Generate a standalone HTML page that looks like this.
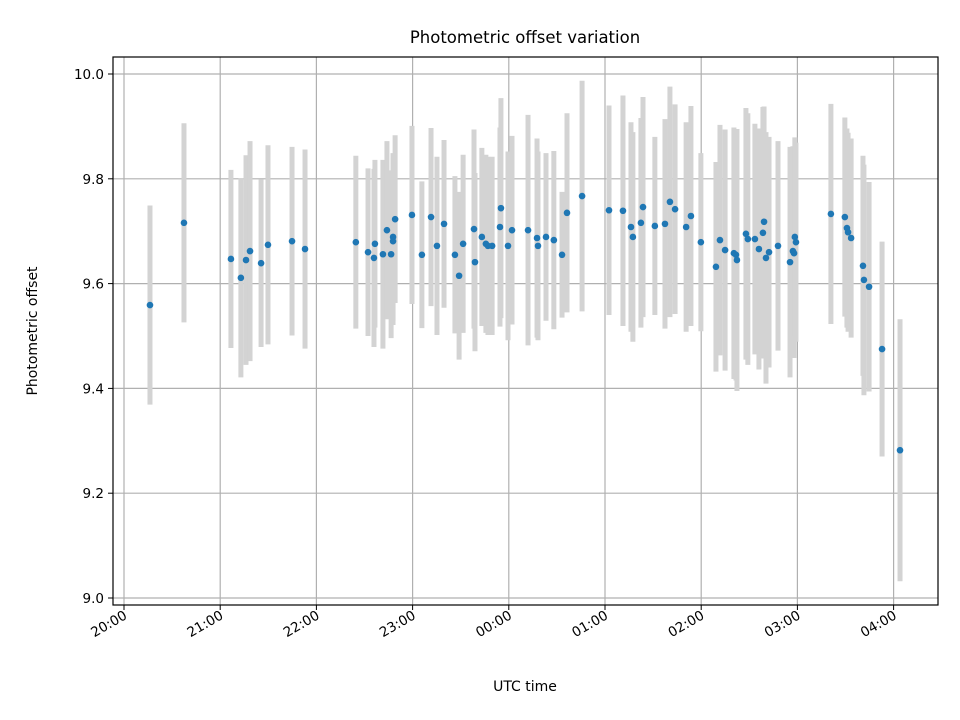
<!DOCTYPE html>
<html><head><meta charset="utf-8"><style>
body{margin:0;background:#fff;}
svg{display:block;font-family:"DejaVu Sans","Liberation Sans",sans-serif;}
</style></head><body>
<svg id="chart" width="960" height="720" viewBox="0 0 960 720">
<rect width="960" height="720" fill="#fff"/>
<text x="525" y="43" font-size="16.5" text-anchor="middle">Photometric offset variation</text>
<text x="37" y="331" font-size="14" text-anchor="middle" transform="rotate(-90 37 331)">Photometric offset</text>
<text x="525" y="691" font-size="14" text-anchor="middle">UTC time</text>
<g id="grid"></g><g id="bars"></g><g id="pts"></g><g id="ticks"></g>
<rect x="113" y="57" width="825" height="548" fill="none" stroke="#000" stroke-width="1.2"/>
</svg>
<script>
// minutes after 20:00 UTC
const times=[16.2,37.4,66.7,72.9,76.1,78.6,85.5,89.8,104.8,112.9,144.6,152.2,155.9,156.5,161.5,164.0,166.6,167.8,167.8,169.1,179.6,185.8,191.5,195.2,199.6,206.4,209.0,211.5,218.3,218.9,223.2,225.7,227.0,229.6,234.5,235.1,239.5,242.0,252.0,257.6,258.2,263.2,268.1,273.2,276.3,285.7,302.5,311.2,316.2,317.4,323.7,322.4,331.1,337.4,340.5,343.7,350.6,353.6,359.8,369.2,371.7,374.9,380.4,381.7,382.3,387.9,389.1,393.5,396.0,399.2,398.5,400.4,402.3,407.9,415.4,417.2,417.9,418.4,419.1,440.9,449.6,450.9,451.6,453.5,460.9,461.5,464.7,472.8,484.0];
const offsets=[9.559,9.716,9.647,9.611,9.645,9.662,9.639,9.674,9.681,9.666,9.679,9.660,9.649,9.676,9.656,9.702,9.656,9.689,9.681,9.723,9.731,9.655,9.727,9.672,9.714,9.655,9.615,9.676,9.704,9.641,9.689,9.676,9.672,9.672,9.708,9.744,9.672,9.702,9.702,9.687,9.672,9.689,9.683,9.655,9.735,9.767,9.740,9.739,9.708,9.689,9.746,9.716,9.710,9.714,9.756,9.742,9.708,9.729,9.679,9.632,9.683,9.664,9.658,9.655,9.645,9.695,9.685,9.685,9.666,9.718,9.697,9.649,9.660,9.672,9.641,9.662,9.658,9.689,9.679,9.733,9.727,9.706,9.698,9.687,9.634,9.607,9.594,9.475,9.282];
const errors=[0.19,0.19,0.17,0.19,0.20,0.21,0.16,0.19,0.18,0.19,0.165,0.16,0.17,0.16,0.18,0.17,0.16,0.16,0.16,0.16,0.17,0.14,0.17,0.17,0.16,0.15,0.16,0.17,0.19,0.17,0.17,0.17,0.17,0.17,0.19,0.21,0.18,0.18,0.22,0.19,0.18,0.16,0.17,0.12,0.19,0.22,0.20,0.22,0.20,0.20,0.21,0.20,0.17,0.20,0.22,0.20,0.20,0.21,0.17,0.20,0.22,0.23,0.24,0.24,0.25,0.24,0.24,0.22,0.23,0.22,0.24,0.24,0.22,0.20,0.22,0.20,0.20,0.19,0.19,0.21,0.19,0.19,0.19,0.19,0.21,0.22,0.20,0.205,0.25];
const xTickMins=[0,60,120,180,240,300,360,420,480];
const xTickLabels=["20:00","21:00","22:00","23:00","00:00","01:00","02:00","03:00","04:00"];
const yTicks=[9.0,9.2,9.4,9.6,9.8,10.0];
const yTickLabels=["9.0","9.2","9.4","9.6","9.8","10.0"];
const NS="http://www.w3.org/2000/svg";
function X(m){return 124+m*96.2/60;}
function Y(v){return 74+(10-v)*524;}
function mk(tag,attrs,parent){const e=document.createElementNS(NS,tag);for(const k in attrs)e.setAttribute(k,attrs[k]);document.getElementById(parent).appendChild(e);return e;}
xTickMins.forEach((m,i)=>{
 const x=X(m);
 const g=mk('line',{x1:x,x2:x,y1:57,y2:605,stroke:'#b0b0b0','stroke-width':1.2},'grid');
 
 
 const t=mk('line',{x1:x,x2:x,y1:605,y2:610,stroke:'#000','stroke-width':1},'ticks');
 
 
 const l=mk('text',{x:x+4,y:618,'font-size':13.5,'text-anchor':'end',transform:`rotate(-30 ${x+4} 618)`},'ticks');
 l.textContent=xTickLabels[i];
 
 
});
yTicks.forEach((v,i)=>{
 const y=Y(v);
 const g=mk('line',{x1:113,x2:938,y1:y,y2:y,stroke:'#b0b0b0','stroke-width':1.2},'grid');
 
 
 const t=mk('line',{x1:108,x2:113,y1:y,y2:y,stroke:'#000','stroke-width':1},'ticks');
 
 
 const l=mk('text',{x:104,y:y+5,'font-size':13.5,'text-anchor':'end'},'ticks');
 l.textContent=yTickLabels[i];
 
 
});
times.forEach((m,i)=>{
 const x=X(m),v=offsets[i],e=errors[i];
 const b=mk('line',{x1:x,x2:x,y1:Y(v+e),y2:Y(v-e),stroke:'#d3d3d3','stroke-width':5},'bars');
 
 
 const p=mk('circle',{cx:x,cy:Y(v),r:3.3,fill:'#1f77b4'},'pts');
 
 
});
</script>
</body></html>
